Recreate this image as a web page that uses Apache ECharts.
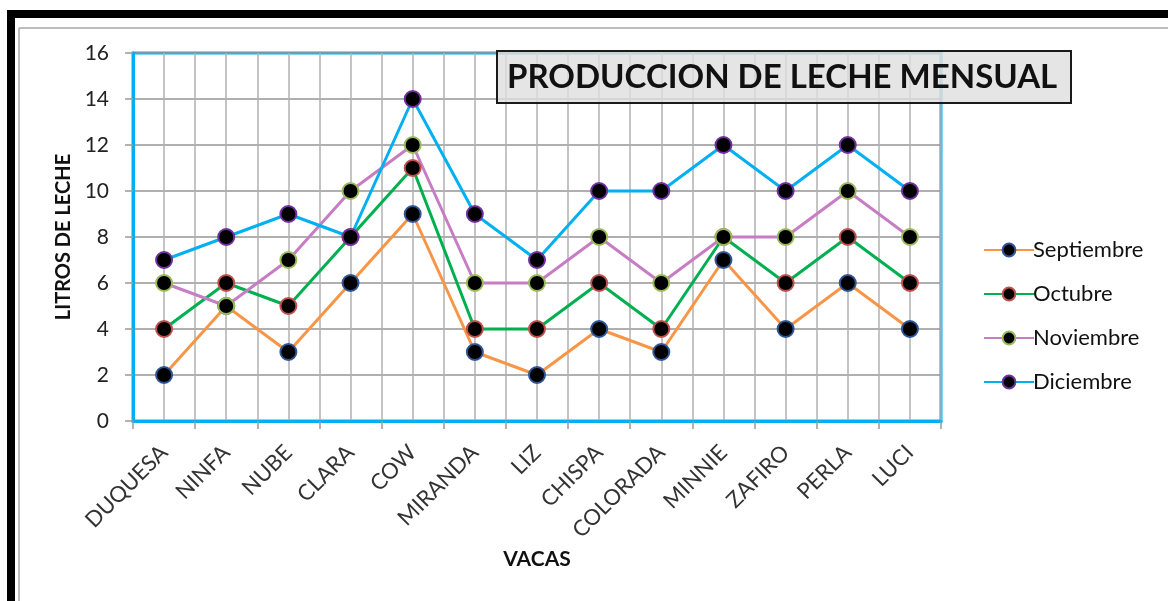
<!DOCTYPE html>
<html>
<head>
<meta charset="utf-8">
<script src="https://cdn.jsdelivr.net/npm/echarts@6/dist/echarts.min.js"></script>
<style>
html,body{margin:0;padding:0;background:#fff;}
#c{width:1168px;height:601px;}
</style>
</head>
<body>
<div id="c"></div>
<script>
const categories = ['DUQUESA','NINFA','NUBE','CLARA','COW','MIRANDA','LIZ','CHISPA','COLORADA','MINNIE','ZAFIRO','PERLA','LUCI'];
const septiembre = [2,5,3,6,9,3,2,4,3,7,4,6,4];
const octubre    = [4,6,5,8,11,4,4,6,4,8,6,8,6];
const noviembre  = [6,5,7,10,12,6,6,8,6,8,8,10,8];
const diciembre  = [7,8,9,8,14,9,7,10,10,12,10,12,10];
const yTicks = [0,2,4,6,8,10,12,14,16];

const FONT = 'Lato';
const chart = echarts.init(document.getElementById('c'));

function mk(name, data, lineColor, borderColor){
  return {
    name: name, type: 'line', data: data, xAxisIndex: 0, yAxisIndex: 0,
    symbol: 'circle', symbolSize: 16,
    lineStyle: {color: lineColor, width: 3},
    itemStyle: {color: '#000', borderColor: borderColor, borderWidth: 2},
    emphasis: {disabled: true}, z: 5
  };
}

chart.setOption({
  animation: false,
  backgroundColor: '#fff',
  title: {
    text: 'PRODUCCION DE LECHE MENSUAL',
    left: 497, top: 51,
    padding: [7, 14, 7, 10],
    backgroundColor: 'rgba(222,222,222,0.8)',
    borderColor: '#1a1a1a', borderWidth: 2,
    textStyle: {fontFamily: FONT, fontWeight: 'bold', fontSize: 33, color: '#111', lineHeight: 38},
    z: 10
  },
  legend: {
    orient: 'vertical', left: 978, top: 232,
    itemWidth: 50, itemHeight: 16, itemGap: 18,
    textStyle: {fontFamily: FONT, fontSize: 22, color: '#111', lineHeight: 26, padding: [0,0,0,-6]},
    data: ['Septiembre','Octubre','Noviembre','Diciembre']
  },
  grid: {
    left: 133, top: 53, width: 808, height: 368,
    show: true, borderColor: '#00B0F0', borderWidth: 3, backgroundColor: 'transparent'
  },
  xAxis: [{
    type: 'category', data: categories, boundaryGap: true,
    name: 'VACAS', nameLocation: 'middle', nameGap: 127,
    nameTextStyle: {fontFamily: FONT, fontWeight: 'bold', fontSize: 21, color: '#111'},
    axisLine: {lineStyle: {color: '#00B0F0', width: 3}},
    axisTick: {show: true, length: 8, lineStyle: {color: '#999', width: 1.5}},
    axisLabel: {rotate: 45, fontFamily: FONT, fontSize: 22, color: '#333', margin: 28},
    splitLine: {show: false}
  },{
    type: 'value', min: 0, max: 26, interval: 1, position: 'bottom',
    axisLine: {show: false}, axisTick: {show: false}, axisLabel: {show: false},
    splitLine: {show: true, lineStyle: {color: '#b0b0b0', width: 1.5}}
  }],
  yAxis: [{
    type: 'value', min: 0, max: 16, interval: 2,
    name: 'LITROS DE LECHE', nameLocation: 'middle', nameGap: 57, nameRotate: 90,
    nameTextStyle: {fontFamily: FONT, fontWeight: 'bold', fontSize: 20, color: '#111'},
    axisLine: {show: true, lineStyle: {color: '#00B0F0', width: 3}},
    axisTick: {show: true, length: 8, lineStyle: {color: '#999', width: 1.5}},
    axisLabel: {fontFamily: FONT, fontSize: 21, color: '#222', margin: 24,
      formatter: function(v){ return yTicks.indexOf(v) >= 0 ? String(v) : ''; }},
    splitLine: {show: true, lineStyle: {color: '#959595', width: 1.5}}
  }],
  series: [
    mk('Septiembre', septiembre, '#F79646', '#2F5597'),
    mk('Octubre', octubre, '#00B050', '#C0504D'),
    mk('Noviembre', noviembre, '#C77DC4', '#9BBB59'),
    mk('Diciembre', diciembre, '#00B0F0', '#7030A0')
  ],
  graphic: [
    {type: 'rect', shape: {x: 7, y: 10, width: 1161, height: 8}, style: {fill: '#000'}, silent: true},
    {type: 'rect', shape: {x: 7, y: 10, width: 8, height: 591}, style: {fill: '#000'}, silent: true},
    {type: 'line', shape: {x1: 19, y1: 28, x2: 1168, y2: 28}, style: {stroke: '#a8a8a8', lineWidth: 1.5}, silent: true},
    {type: 'line', shape: {x1: 19, y1: 28, x2: 19, y2: 601}, style: {stroke: '#a8a8a8', lineWidth: 1.5}, silent: true}
  ]
});
</script>
</body>
</html>
